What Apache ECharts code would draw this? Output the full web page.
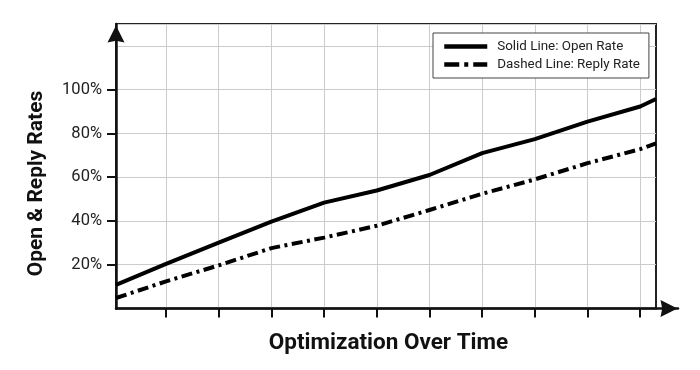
<!DOCTYPE html>
<html>
<head>
<meta charset="utf-8">
<script src="https://cdn.jsdelivr.net/npm/echarts@6/dist/echarts.min.js"></script>
<style>html,body{margin:0;padding:0;background:#fff;}#c{width:700px;height:370px;}</style>
</head>
<body>
<div id="c"></div>
<script>
const xValues = [0.05, 1, 2, 3, 4, 5, 6, 7, 8, 9, 10, 10.3];
const openRate = [10.8, 20.4, 30.1, 39.7, 48.4, 53.9, 61, 71, 77.4, 85.4, 92.3, 95.7];
const replyRate = [4.8, 12.4, 19.7, 27.6, 32.4, 37.8, 45, 52.4, 59, 66.4, 72.8, 75.4];
const xTicks = [1, 2, 3, 4, 5, 6, 7, 8, 9, 10];
const yTicks = [20, 40, 60, 80, 100];
const seriesNames = ['Solid Line: Open Rate', 'Dashed Line: Reply Rate'];
const xTitle = 'Optimization Over Time';
const yTitle = 'Open & Reply Rates';

const FONT = 'Roboto';
const ARROW = 'path://M10,0L20,20L10,18L0,20Z';
const chart = echarts.init(document.getElementById('c'), null, {renderer: 'canvas'});
const pairs = (ys) => xValues.map((x, i) => [x, ys[i]]);

chart.setOption({
  animation: false,
  backgroundColor: '#fff',
  grid: [
    {left: 116, right: 44, top: 24, bottom: 61.5, show: true, borderColor: '#222', borderWidth: 2, backgroundColor: 'transparent'},
    {left: 116, right: 22, top: 24, bottom: 61.5}
  ],
  xAxis: [
    {
      type: 'value', gridIndex: 0, min: 0.05, max: 10.3,
      axisLine: {show: false},
      axisTick: {show: true, customValues: xTicks, length: 9, lineStyle: {color: '#111', width: 2}},
      axisLabel: {show: false, customValues: xTicks},
      splitLine: {show: true, lineStyle: {color: '#cccccc', width: 1}}
    },
    {
      type: 'value', gridIndex: 1, min: 0, max: 1,
      axisLine: {show: true, onZero: false, symbol: ['none', ARROW], symbolSize: [17, 18], symbolOffset: [0, -9],
        lineStyle: {color: '#111', width: 2.5}},
      axisTick: {show: false}, axisLabel: {show: false}, splitLine: {show: false}
    }
  ],
  yAxis: [
    {
      type: 'value', gridIndex: 0, min: 0, max: 130, interval: 20,
      axisLine: {show: true, onZero: false, symbol: ['none', ARROW], symbolSize: [17, 20], symbolOffset: [0, -10],
        lineStyle: {color: '#111', width: 2.5}},
      axisTick: {show: false},
      axisLabel: {
        margin: 14, fontFamily: FONT, fontSize: 16.5, color: '#222',
        formatter: (v) => (yTicks.indexOf(v) >= 0 ? v + '%' : '')
      },
      splitLine: {show: true, lineStyle: {color: '#cccccc', width: 1}}
    },
    {type: 'value', gridIndex: 1, show: false, min: 0, max: 1},
    {
      type: 'value', gridIndex: 0, position: 'left', min: 0, max: 130,
      axisLine: {show: false},
      axisTick: {show: true, customValues: yTicks, length: 9, lineStyle: {color: '#111', width: 2}},
      axisLabel: {show: false, customValues: yTicks},
      splitLine: {show: false}
    }
  ],
  legend: {
    orient: 'vertical', left: 433, top: 33,
    padding: [7, 9, 7, 9], itemGap: 5, itemWidth: 43, itemHeight: 14,
    borderColor: '#444', borderWidth: 1, borderRadius: 0, backgroundColor: '#fff',
    textStyle: {fontFamily: FONT, fontSize: 13.4, color: '#222', padding: [0, 0, 0, 5]},
    itemStyle: {opacity: 0},
    lineStyle: {width: 4.5, color: '#000'},
    data: [
      {name: seriesNames[0], lineStyle: {type: 'solid', width: 4.5, color: '#000'}},
      {name: seriesNames[1], lineStyle: {type: [15, 5, 4, 5], width: 4.5, color: '#000'}}
    ]
  },
  graphic: [
    {type: 'text', x: 388.5, y: 343, style: {text: xTitle, fontFamily: FONT, fontWeight: 'bold', fontSize: 22.5,
      fill: '#111', align: 'center', verticalAlign: 'middle'}},
    {type: 'text', x: 37, y: 183.5, rotation: Math.PI / 2, style: {text: yTitle, fontFamily: FONT, fontWeight: 'bold',
      fontSize: 21, fill: '#111', align: 'center', verticalAlign: 'middle'}}
  ],
  series: [
    {
      name: seriesNames[0], type: 'line', xAxisIndex: 0, yAxisIndex: 0,
      data: pairs(openRate), showSymbol: false, symbol: 'none', clip: true,
      lineStyle: {color: '#000', width: 4, type: 'solid', cap: 'butt', join: 'round'},
      itemStyle: {color: '#000'}
    },
    {
      name: seriesNames[1], type: 'line', xAxisIndex: 0, yAxisIndex: 0,
      data: pairs(replyRate), showSymbol: false, symbol: 'none', clip: true,
      lineStyle: {color: '#000', width: 4, type: [11, 4.5, 3, 4.5], cap: 'butt', join: 'round'},
      itemStyle: {color: '#000'}
    }
  ]
});
</script>
</body>
</html>
